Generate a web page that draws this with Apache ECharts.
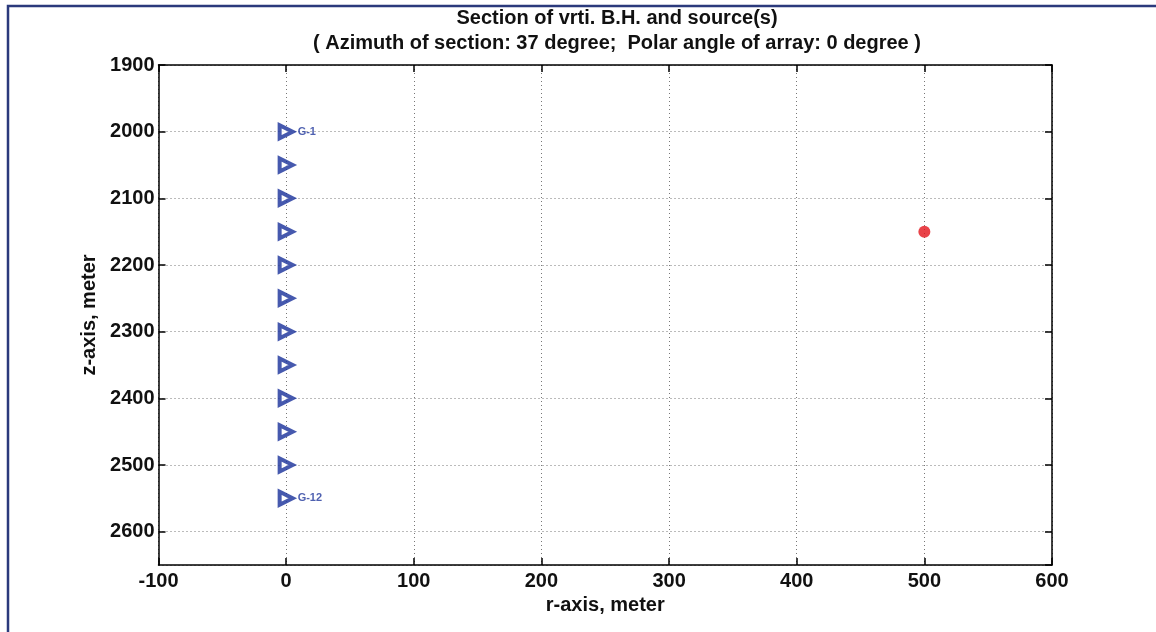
<!DOCTYPE html>
<html>
<head>
<meta charset="utf-8">
<script src="https://cdn.jsdelivr.net/npm/echarts@6/dist/echarts.min.js"></script>
<style>
html,body{margin:0;padding:0;background:#fff;}
#chart{width:1156px;height:632px;}
</style>
</head>
<body>
<div id="chart"></div>
<script>
// ---- data ----
const titleLines = ['Section of vrti. B.H. and source(s)', '( Azimuth of section: 37 degree;  Polar angle of array: 0 degree )'];
const xAxisName = 'r-axis, meter';
const yAxisName = 'z-axis, meter';
const geophoneR = [0, 0, 0, 0, 0, 0, 0, 0, 0, 0, 0, 0];
const geophoneZ = [2000, 2050, 2100, 2150, 2200, 2250, 2300, 2350, 2400, 2450, 2500, 2550];
const geophoneLabels = ['G-1', '', '', '', '', '', '', '', '', '', '', 'G-12'];
const sourceR = [500];
const sourceZ = [2150];
const xRange = [-100, 600];
const yRange = [1900, 2650];
const tickStep = 100;

const chart = echarts.init(document.getElementById('chart'));
const font = 'Liberation Sans, Arial, Helvetica, sans-serif';
const gridLine = { show: true, lineStyle: { color: '#777', type: [1, 3], width: 1 } };

const geoData = geophoneR.map((r, i) => ({ value: [r, geophoneZ[i]], name: geophoneLabels[i] }));
const srcData = sourceR.map((r, i) => [r, sourceZ[i]]);

chart.setOption({
  animation: false,
  backgroundColor: '#fff',
  title: {
    text: titleLines.join('\n'),
    left: 612, textAlign: 'center', top: 1,
    textStyle: { fontFamily: font, fontWeight: 'bold', fontSize: 20, lineHeight: 25, color: '#111' }
  },
  grid: { left: 158.5, right: 104, top: 65, bottom: 67, containLabel: false },
  xAxis: [{
    type: 'value', min: xRange[0], max: xRange[1], interval: tickStep, position: 'bottom',
    name: xAxisName, nameLocation: 'middle', nameGap: 29,
    nameTextStyle: { fontFamily: font, fontWeight: 'bold', fontSize: 20, color: '#111' },
    axisLine: { show: true, lineStyle: { color: '#000', width: 1.5 } },
    axisTick: { show: true, inside: true, length: 7, lineStyle: { color: '#000', width: 1.5 } },
    axisLabel: { fontFamily: font, fontWeight: 'bold', fontSize: 20, color: '#111', margin: 6, formatter: v => String(v) },
    splitLine: gridLine
  }, {
    type: 'value', min: xRange[0], max: xRange[1], interval: tickStep, position: 'top',
    axisLine: { show: true, onZero: false, lineStyle: { color: '#000', width: 1.5 } },
    axisTick: { show: true, inside: true, length: 7, lineStyle: { color: '#000', width: 1.5 } },
    axisLabel: { show: false }, splitLine: { show: false }
  }],
  yAxis: [{
    type: 'value', inverse: true, min: yRange[0], max: yRange[1], interval: tickStep, position: 'left',
    name: yAxisName, nameLocation: 'middle', nameGap: 51,
    nameTextStyle: { fontFamily: font, fontWeight: 'bold', fontSize: 20, color: '#111' },
    axisLine: { show: true, onZero: false, lineStyle: { color: '#000', width: 1.5 } },
    axisTick: { show: true, inside: true, length: 7, lineStyle: { color: '#000', width: 1.5 } },
    axisLabel: { fontFamily: font, fontWeight: 'bold', fontSize: 20, color: '#111', margin: 4, showMaxLabel: false, formatter: v => String(v) },
    splitLine: gridLine
  }, {
    type: 'value', inverse: true, min: yRange[0], max: yRange[1], interval: tickStep, position: 'right',
    axisLine: { show: true, onZero: false, lineStyle: { color: '#000', width: 1.5 } },
    axisTick: { show: true, inside: true, length: 7, lineStyle: { color: '#000', width: 1.5 } },
    axisLabel: { show: false }, splitLine: { show: false }
  }],
  series: [{
    type: 'scatter', xAxisIndex: 0, yAxisIndex: 0,
    data: geoData,
    symbol: 'triangle', symbolRotate: -90, symbolSize: 13,
    itemStyle: { color: '#ffffff', borderColor: '#18309a', borderWidth: 4 },
    label: {
      show: true, position: 'right', distance: 3,
      formatter: p => p.name,
      fontFamily: font, fontWeight: 'bold', fontSize: 11, color: '#22389c'
    },
    z: 3
  }, {
    type: 'scatter', xAxisIndex: 0, yAxisIndex: 0,
    data: srcData,
    symbol: 'circle', symbolSize: 12,
    itemStyle: { color: '#e3141b' },
    z: 3
  }],
  graphic: [{
    type: 'polyline',
    shape: { points: [[8, 632], [8, 6], [1156, 6]] },
    style: { stroke: '#2b3a7c', lineWidth: 2.5, fill: null },
    silent: true
  }]
});
</script>
</body>
</html>
